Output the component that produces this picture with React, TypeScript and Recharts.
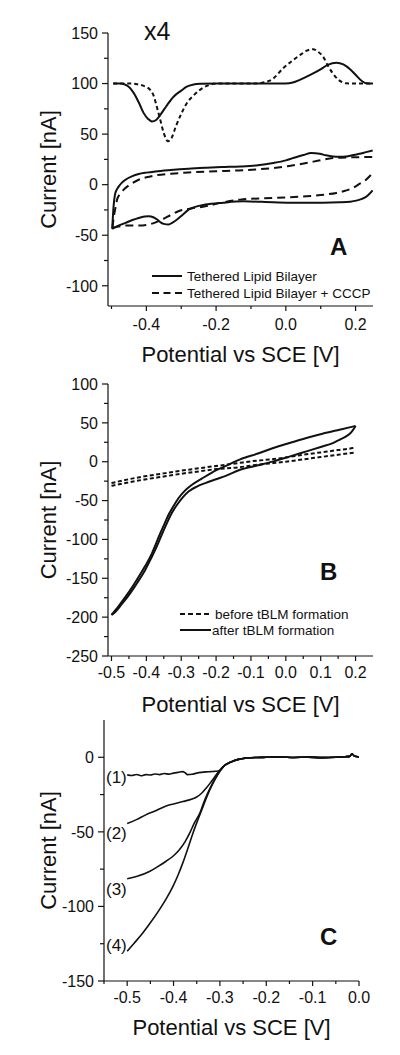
import React from 'react'
import { LineChart, Line, XAxis, YAxis, Label } from 'recharts'

const FONT = '"Liberation Sans", Arial, Helvetica, sans-serif'
const INK = '#111'

// ---- Panel A: tethered lipid bilayer CV (x4 traces offset to 100 nA) ----
const aTicksX = [-0.5, -0.4, -0.3, -0.2, -0.1, 0, 0.1, 0.2]
const aLabelsX = [-0.4, -0.2, 0, 0.2]
const aTicksY = [-100, -75, -50, -25, 0, 25, 50, 75, 100, 125, 150]
const aLabelsY = [-100, -50, 0, 50, 100, 150]

const tlbPeaks = [
  { x: -0.495, y: 100 }, { x: -0.475, y: 100 }, { x: -0.455, y: 98 }, { x: -0.436, y: 90.5 },
  { x: -0.42, y: 80 }, { x: -0.408, y: 71 }, { x: -0.395, y: 65 }, { x: -0.384, y: 62.5 },
  { x: -0.372, y: 64 }, { x: -0.36, y: 69 }, { x: -0.34, y: 79 }, { x: -0.322, y: 87 },
  { x: -0.3, y: 93 }, { x: -0.284, y: 97 }, { x: -0.265, y: 99 }, { x: -0.246, y: 99.7 },
  { x: -0.2, y: 100 }, { x: -0.1, y: 100 }, { x: 0, y: 100 }, { x: 0.02, y: 101 },
  { x: 0.04, y: 103.6 }, { x: 0.07, y: 108.5 }, { x: 0.097, y: 113.5 }, { x: 0.12, y: 118.5 },
  { x: 0.145, y: 120.7 }, { x: 0.165, y: 119 }, { x: 0.185, y: 114 }, { x: 0.202, y: 108 },
  { x: 0.218, y: 102.5 }, { x: 0.23, y: 100.3 }, { x: 0.25, y: 100 },
]
const cccpPeaks = [
  { x: -0.495, y: 100 }, { x: -0.45, y: 100 }, { x: -0.43, y: 99.5 }, { x: -0.417, y: 98.7 },
  { x: -0.4, y: 96.5 }, { x: -0.389, y: 93.8 }, { x: -0.378, y: 87 }, { x: -0.37, y: 77 },
  { x: -0.36, y: 64 }, { x: -0.35, y: 51 }, { x: -0.338, y: 43 }, { x: -0.328, y: 46 },
  { x: -0.315, y: 58 }, { x: -0.3, y: 70 }, { x: -0.284, y: 80.6 }, { x: -0.265, y: 88 },
  { x: -0.246, y: 93.8 }, { x: -0.228, y: 97.5 }, { x: -0.208, y: 99.7 }, { x: -0.19, y: 100 },
  { x: -0.08, y: 100 }, { x: -0.065, y: 101 }, { x: -0.04, y: 104 }, { x: -0.008, y: 115 },
  { x: 0.02, y: 123 }, { x: 0.04, y: 128 }, { x: 0.06, y: 132.5 }, { x: 0.078, y: 134 },
  { x: 0.092, y: 131.5 }, { x: 0.107, y: 126.6 }, { x: 0.12, y: 118 }, { x: 0.135, y: 110 },
  { x: 0.15, y: 104 }, { x: 0.173, y: 100.3 }, { x: 0.2, y: 100 }, { x: 0.25, y: 100 },
]
const tlbUpper = [
  { x: -0.498, y: -43.7 }, { x: -0.496, y: -32 }, { x: -0.494, y: -21.4 }, { x: -0.49, y: -9.9 },
  { x: -0.485, y: -5 }, { x: -0.479, y: -1.7 }, { x: -0.47, y: 2 }, { x: -0.46, y: 4.9 },
  { x: -0.44, y: 8.5 }, { x: -0.422, y: 10.5 }, { x: -0.4, y: 11.9 }, { x: -0.374, y: 13.1 },
  { x: -0.33, y: 14.5 }, { x: -0.279, y: 15.8 }, { x: -0.23, y: 16.7 }, { x: -0.184, y: 17.4 },
  { x: -0.131, y: 18 }, { x: -0.08, y: 19.2 }, { x: -0.036, y: 21.4 }, { x: 0, y: 24 },
  { x: 0.021, y: 26.3 }, { x: 0.05, y: 29.3 }, { x: 0.073, y: 31.2 }, { x: 0.097, y: 30.6 },
  { x: 0.115, y: 29 }, { x: 0.135, y: 27.9 }, { x: 0.155, y: 27.7 }, { x: 0.173, y: 27.9 },
  { x: 0.19, y: 29 }, { x: 0.211, y: 30.6 }, { x: 0.23, y: 32.2 }, { x: 0.249, y: 33.8 },
]
const tlbLower = [
  { x: -0.498, y: -43.7 }, { x: -0.48, y: -40.5 }, { x: -0.46, y: -37.8 }, { x: -0.44, y: -35 },
  { x: -0.422, y: -32.9 }, { x: -0.405, y: -31.5 }, { x: -0.393, y: -31.2 }, { x: -0.38, y: -32.2 },
  { x: -0.369, y: -34.5 }, { x: -0.358, y: -37.5 }, { x: -0.35, y: -38.8 }, { x: -0.336, y: -39.4 },
  { x: -0.325, y: -37.5 }, { x: -0.312, y: -34.5 }, { x: -0.295, y: -29.5 }, { x: -0.279, y: -24.7 },
  { x: -0.255, y: -21.5 }, { x: -0.231, y: -19.7 }, { x: -0.18, y: -17.8 }, { x: -0.122, y: -16.5 },
  { x: -0.036, y: -17.4 }, { x: 0.059, y: -18 }, { x: 0.154, y: -17.4 }, { x: 0.185, y: -16.8 },
  { x: 0.202, y: -15.8 }, { x: 0.218, y: -14 }, { x: 0.23, y: -12.1 }, { x: 0.24, y: -9 },
  { x: 0.249, y: -5.6 },
]
const cccpUpper = [
  { x: -0.497, y: -42.7 }, { x: -0.495, y: -36 }, { x: -0.493, y: -31.2 }, { x: -0.488, y: -22 },
  { x: -0.484, y: -14.8 }, { x: -0.475, y: -9 }, { x: -0.465, y: -4.9 }, { x: -0.445, y: 0.5 },
  { x: -0.422, y: 4.9 }, { x: -0.4, y: 7.3 }, { x: -0.374, y: 9.2 }, { x: -0.33, y: 10.8 },
  { x: -0.279, y: 12.1 }, { x: -0.2, y: 13.3 }, { x: -0.136, y: 14.1 }, { x: -0.036, y: 16.5 },
  { x: 0.01, y: 18.5 }, { x: 0.059, y: 21.4 }, { x: 0.1, y: 24.2 }, { x: 0.135, y: 26.3 },
  { x: 0.18, y: 27 }, { x: 0.249, y: 27.3 },
]
const cccpLower = [
  { x: -0.497, y: -42.7 }, { x: -0.48, y: -41.5 }, { x: -0.46, y: -40.4 }, { x: -0.422, y: -40.4 },
  { x: -0.393, y: -39.4 }, { x: -0.375, y: -37.5 }, { x: -0.355, y: -34.5 }, { x: -0.33, y: -30 },
  { x: -0.308, y: -26.3 }, { x: -0.27, y: -23.5 }, { x: -0.231, y: -21.4 }, { x: -0.18, y: -17.5 },
  { x: -0.131, y: -14.8 }, { x: -0.036, y: -13.1 }, { x: 0.059, y: -11.5 }, { x: 0.1, y: -10.2 },
  { x: 0.145, y: -8.2 }, { x: 0.17, y: -6 }, { x: 0.192, y: -3.3 }, { x: 0.21, y: 0.5 },
  { x: 0.23, y: 4.9 }, { x: 0.249, y: 11.5 },
]

// ---- Panel B: before / after tBLM formation ----
const bTicksX = [-0.5, -0.45, -0.4, -0.35, -0.3, -0.25, -0.2, -0.15, -0.1, -0.05, 0, 0.05, 0.1, 0.15, 0.2]
const bLabelsX = [-0.5, -0.4, -0.3, -0.2, -0.1, 0, 0.1, 0.2]
const bTicksY = [-250, -225, -200, -175, -150, -125, -100, -75, -50, -25, 0, 25, 50, 75, 100]
const bLabelsY = [-250, -200, -150, -100, -50, 0, 50, 100]

const afterFwd = [
  { x: -0.5, y: -197 }, { x: -0.48, y: -186 }, { x: -0.46, y: -174 }, { x: -0.44, y: -161 },
  { x: -0.422, y: -148 }, { x: -0.403, y: -134 }, { x: -0.384, y: -118 }, { x: -0.372, y: -105 },
  { x: -0.36, y: -92 }, { x: -0.348, y: -80 }, { x: -0.336, y: -68 }, { x: -0.322, y: -57 },
  { x: -0.308, y: -47 }, { x: -0.29, y: -37.5 }, { x: -0.27, y: -30 }, { x: -0.24, y: -21.5 },
  { x: -0.212, y: -14 }, { x: -0.17, y: -5 }, { x: -0.131, y: 3 }, { x: -0.08, y: 10.5 },
  { x: -0.036, y: 17.6 }, { x: 0.01, y: 24 }, { x: 0.059, y: 30.5 }, { x: 0.105, y: 36 },
  { x: 0.154, y: 41.2 }, { x: 0.2, y: 46 },
]
const afterRev = [
  { x: -0.5, y: -197 }, { x: -0.493, y: -195 }, { x: -0.47, y: -183 }, { x: -0.446, y: -169 },
  { x: -0.425, y: -155 }, { x: -0.403, y: -139 }, { x: -0.386, y: -124 }, { x: -0.37, y: -109 },
  { x: -0.355, y: -93 }, { x: -0.341, y: -79 }, { x: -0.327, y: -66 }, { x: -0.312, y: -55.4 },
  { x: -0.295, y: -45.5 }, { x: -0.279, y: -38.3 }, { x: -0.255, y: -32 }, { x: -0.231, y: -27.5 },
  { x: -0.2, y: -22.5 }, { x: -0.174, y: -18.5 }, { x: -0.131, y: -10.3 }, { x: -0.08, y: -4.6 },
  { x: -0.036, y: 0.4 }, { x: 0.01, y: 6.5 }, { x: 0.059, y: 13.3 }, { x: 0.1, y: 19 },
  { x: 0.135, y: 24 }, { x: 0.155, y: 28.5 }, { x: 0.173, y: 32.6 }, { x: 0.188, y: 38 },
  { x: 0.2, y: 46 },
]
const beforeFwd = [
  { x: -0.5, y: -27.5 }, { x: -0.45, y: -22.5 }, { x: -0.4, y: -18.5 }, { x: -0.35, y: -15 },
  { x: -0.3, y: -11.5 }, { x: -0.25, y: -8.5 }, { x: -0.2, y: -5.5 }, { x: -0.136, y: -1.7 },
  { x: -0.1, y: 0.5 }, { x: -0.036, y: 3.4 }, { x: 0, y: 5.5 }, { x: 0.05, y: 9 },
  { x: 0.1, y: 12 }, { x: 0.15, y: 15 }, { x: 0.192, y: 17.6 }, { x: 0.2, y: 18.5 },
]
const beforeRev = [
  { x: -0.5, y: -31 }, { x: -0.45, y: -26.5 }, { x: -0.4, y: -22.5 }, { x: -0.35, y: -19 },
  { x: -0.3, y: -15.5 }, { x: -0.25, y: -12.5 }, { x: -0.2, y: -9.5 }, { x: -0.136, y: -7.3 },
  { x: -0.1, y: -5 }, { x: -0.036, y: -1.7 }, { x: 0, y: 0 }, { x: 0.05, y: 3 },
  { x: 0.1, y: 6 }, { x: 0.15, y: 9 }, { x: 0.2, y: 12 },
]

// ---- Panel C: linear sweeps (1)-(4) ----
const cTicksX = [-0.55, -0.5, -0.45, -0.4, -0.35, -0.3, -0.25, -0.2, -0.15, -0.1, -0.05, 0]
const cLabelsX = [-0.5, -0.4, -0.3, -0.2, -0.1, 0]
const cTicksY = [-150, -125, -100, -75, -50, -25, 0]
const cLabelsY = [-150, -100, -50, 0]

const sweepTail = [
  { x: -0.29, y: -5.5 }, { x: -0.28, y: -3.7 }, { x: -0.27, y: -2.3 }, { x: -0.26, y: -1.4 },
  { x: -0.25, y: -0.8 }, { x: -0.24, y: -0.4 }, { x: -0.22, y: -0.1 }, { x: -0.2, y: 0 },
  { x: -0.17, y: 0.2 }, { x: -0.14, y: -0.1 }, { x: -0.11, y: 0.1 }, { x: -0.08, y: -0.2 },
  { x: -0.05, y: 0 }, { x: -0.03, y: 0.4 }, { x: -0.02, y: 0.6 }, { x: -0.015, y: 2.4 },
  { x: -0.01, y: 0.8 }, { x: -0.005, y: 0.5 }, { x: 0, y: 0.3 },
]
const sweep1Head = [
  { x: -0.5, y: -11.8 }, { x: -0.49, y: -12.2 }, { x: -0.48, y: -11.5 }, { x: -0.47, y: -12.4 },
  { x: -0.46, y: -11.6 }, { x: -0.45, y: -11.9 }, { x: -0.44, y: -11.2 }, { x: -0.43, y: -11.6 },
  { x: -0.42, y: -10.9 }, { x: -0.41, y: -11.3 }, { x: -0.4, y: -10.6 }, { x: -0.39, y: -10.1 },
  { x: -0.38, y: -9.6 }, { x: -0.375, y: -10.4 }, { x: -0.37, y: -11.6 }, { x: -0.36, y: -11.4 },
  { x: -0.35, y: -10.6 }, { x: -0.34, y: -10.1 }, { x: -0.33, y: -9.8 }, { x: -0.32, y: -9.6 },
  { x: -0.31, y: -9.4 }, { x: -0.3, y: -8.8 },
]
const sweep2Head = [
  { x: -0.5, y: -44.4 }, { x: -0.48, y: -41.8 }, { x: -0.46, y: -38.6 }, { x: -0.44, y: -36 },
  { x: -0.416, y: -32.6 }, { x: -0.4, y: -31.3 }, { x: -0.38, y: -29.7 }, { x: -0.36, y: -28 },
  { x: -0.351, y: -26.8 }, { x: -0.34, y: -24.3 }, { x: -0.329, y: -20.5 }, { x: -0.32, y: -16.9 },
  { x: -0.311, y: -13.1 }, { x: -0.3, y: -8.5 },
]
const sweep3Head = [
  { x: -0.5, y: -81.5 }, { x: -0.48, y: -80 }, { x: -0.452, y: -76.6 }, { x: -0.435, y: -73.5 },
  { x: -0.416, y: -69.7 }, { x: -0.4, y: -66 }, { x: -0.387, y: -61.8 }, { x: -0.375, y: -56.5 },
  { x: -0.365, y: -50.7 }, { x: -0.355, y: -44 }, { x: -0.343, y: -37.3 }, { x: -0.335, y: -30.5 },
  { x: -0.326, y: -23.9 }, { x: -0.316, y: -17.5 }, { x: -0.307, y: -12.7 }, { x: -0.298, y: -8.2 },
]
const sweep4Head = [
  { x: -0.5, y: -130 }, { x: -0.485, y: -124.7 }, { x: -0.466, y: -117.7 }, { x: -0.45, y: -111 },
  { x: -0.43, y: -102 }, { x: -0.415, y: -94.5 }, { x: -0.401, y: -86.4 }, { x: -0.39, y: -78.8 },
  { x: -0.38, y: -70.8 }, { x: -0.369, y: -61 }, { x: -0.358, y: -50.7 }, { x: -0.347, y: -41.5 },
  { x: -0.336, y: -32.8 }, { x: -0.327, y: -25.5 }, { x: -0.318, y: -19.4 }, { x: -0.309, y: -14 },
  { x: -0.3, y: -9.4 },
]
const sweeps = [sweep1Head, sweep2Head, sweep3Head, sweep4Head].map(h => [...h, ...sweepTail])

const isIn = (list: number[], v: number) => list.some(m => Math.abs(m - v) < 1e-6)

// custom ticks: tickSize/tickMargin are 0 so x/y sit on the axis line
const yTick = (labels: number[]) => (p: any) => {
  const v = p.payload.value
  const major = isIn(labels, v)
  return (
    <g>
      <line x1={p.x - (major ? 6 : 4)} x2={p.x} y1={p.y} y2={p.y} stroke={INK} strokeWidth={1.2} />
      {major && (
        <text x={p.x - 10} y={p.y} dy="0.36em" textAnchor="end" fontSize={16} fill={INK} fontFamily={FONT}>{v}</text>
      )}
    </g>
  )
}
const xTick = (labels: number[], gap: number) => (p: any) => {
  const v = p.payload.value
  const major = isIn(labels, v)
  return (
    <g>
      <line x1={p.x} x2={p.x} y1={p.y} y2={p.y + (major ? 5 : 3)} stroke={INK} strokeWidth={1.2} />
      {major && (
        <text x={p.x} y={p.y + gap} textAnchor="middle" fontSize={16} fill={INK} fontFamily={FONT}>{v.toFixed(1)}</text>
      )}
    </g>
  )
}

const axisLine = { stroke: INK, strokeWidth: 1.2 }
const titleStyle = { fontSize: 22, fill: INK, fontFamily: FONT }

function line(data: any[], key: string, width: number, dash?: string) {
  return (
    <Line key={key} data={data} dataKey="y" type="monotone" stroke={INK} strokeWidth={width}
      strokeDasharray={dash} dot={false} activeDot={false} isAnimationActive={false} />
  )
}

export default function App() {
  return (
    <div style={{ position: 'absolute', left: 0, top: 0, width: 400, height: 1055, background: '#fff', fontFamily: FONT }}>
      {/* Panel A */}
      <div style={{ position: 'absolute', left: 0, top: 0 }}>
        <LineChart width={400} height={370} margin={{ top: 33, right: 27, bottom: 0, left: 0 }}>
          <XAxis type="number" dataKey="x" domain={[-0.51, 0.25]} ticks={aTicksX} interval={0} height={64}
            tickSize={0} tickMargin={0} axisLine={axisLine} tickLine={false} tick={xTick(aLabelsX, 24)} allowDataOverflow>
            <Label value="Potential vs SCE [V]" position="insideBottom" offset={8} style={titleStyle} />
          </XAxis>
          <YAxis type="number" domain={[-120, 150]} ticks={aTicksY} interval={0} width={108}
            tickSize={0} tickMargin={0} axisLine={axisLine} tickLine={false} tick={yTick(aLabelsY)} allowDataOverflow>
            <Label value="Current [nA]" angle={-90} position="insideLeft" offset={48} style={{ ...titleStyle, textAnchor: 'middle' }} />
          </YAxis>
          {line(tlbPeaks, 'tp', 2)}
          {line(cccpPeaks, 'cp', 2, '4 3')}
          {line(tlbUpper, 'tu', 2)}
          {line(tlbLower, 'tl', 2)}
          {line(cccpUpper, 'cu', 2, '8 5')}
          {line(cccpLower, 'cl', 2, '8 5')}
        </LineChart>
      </div>

      {/* Panel B */}
      <div style={{ position: 'absolute', left: 0, top: 370 }}>
        <LineChart width={400} height={350} margin={{ top: 14, right: 27, bottom: 0, left: 0 }}>
          <XAxis type="number" dataKey="x" domain={[-0.51, 0.25]} ticks={bTicksX} interval={0} height={64}
            tickSize={0} tickMargin={0} axisLine={axisLine} tickLine={false} tick={xTick(bLabelsX, 22)} allowDataOverflow>
            <Label value="Potential vs SCE [V]" position="insideBottom" offset={8} style={titleStyle} />
          </XAxis>
          <YAxis type="number" domain={[-250, 100]} ticks={bTicksY} interval={0} width={108}
            tickSize={0} tickMargin={0} axisLine={axisLine} tickLine={false} tick={yTick(bLabelsY)} allowDataOverflow>
            <Label value="Current [nA]" angle={-90} position="insideLeft" offset={48} style={{ ...titleStyle, textAnchor: 'middle' }} />
          </YAxis>
          {line(beforeFwd, 'bf', 2, '4 2.5')}
          {line(beforeRev, 'br', 2, '4 2.5')}
          {line(afterFwd, 'af', 2)}
          {line(afterRev, 'ar', 2)}
        </LineChart>
      </div>

      {/* Panel C */}
      <div style={{ position: 'absolute', left: 0, top: 700 }}>
        <LineChart width={400} height={355} margin={{ top: 20, right: 41, bottom: 0, left: 0 }}>
          <XAxis type="number" dataKey="x" domain={[-0.55, 0]} ticks={cTicksX} interval={0} height={74}
            tickSize={0} tickMargin={0} axisLine={axisLine} tickLine={false} tick={xTick(cLabelsX, 22)} allowDataOverflow>
            <Label value="Potential vs SCE [V]" position="insideBottom" offset={20} style={titleStyle} />
          </XAxis>
          <YAxis type="number" domain={[-150, 25]} ticks={cTicksY} interval={0} width={104}
            tickSize={0} tickMargin={0} axisLine={axisLine} tickLine={false} tick={yTick(cLabelsY)} allowDataOverflow>
            <Label value="Current [nA]" angle={-90} position="insideLeft" offset={48} style={{ ...titleStyle, textAnchor: 'middle' }} />
          </YAxis>
          {sweeps.map((s, i) => line(s, 's' + i, 1.6))}
        </LineChart>
      </div>

      {/* annotations and legends */}
      <svg width={400} height={1055} style={{ position: 'absolute', left: 0, top: 0, pointerEvents: 'none' }}
        fontFamily={FONT} fill={INK}>
        <text x={144} y={40} fontSize={25}>x4</text>
        <text x={330} y={255} fontSize={24} fontWeight="bold">A</text>
        <line x1={152} x2={182} y1={276} y2={276} stroke={INK} strokeWidth={2} />
        <text x={187} y={281} fontSize={13.5}>Tethered Lipid Bilayer</text>
        <line x1={152} x2={182} y1={293} y2={293} stroke={INK} strokeWidth={2} strokeDasharray="7 4.5" />
        <text x={187} y={298} fontSize={13.5}>Tethered Lipid Bilayer + CCCP</text>

        <text x={320} y={580} fontSize={24} fontWeight="bold">B</text>
        <line x1={180} x2={210} y1={614} y2={614} stroke={INK} strokeWidth={2} strokeDasharray="5 3" />
        <text x={215} y={619} fontSize={13.5}>before tBLM formation</text>
        <line x1={180} x2={211} y1={630} y2={630} stroke={INK} strokeWidth={2} />
        <text x={212} y={635} fontSize={13.5}>after tBLM formation</text>

        <text x={320} y={945} fontSize={24} fontWeight="bold">C</text>
        <text x={106} y={783} fontSize={17}>(1)</text>
        <text x={106} y={838.5} fontSize={17}>(2)</text>
        <text x={106} y={895} fontSize={17}>(3)</text>
        <text x={106} y={951} fontSize={17}>(4)</text>
      </svg>
    </div>
  )
}
